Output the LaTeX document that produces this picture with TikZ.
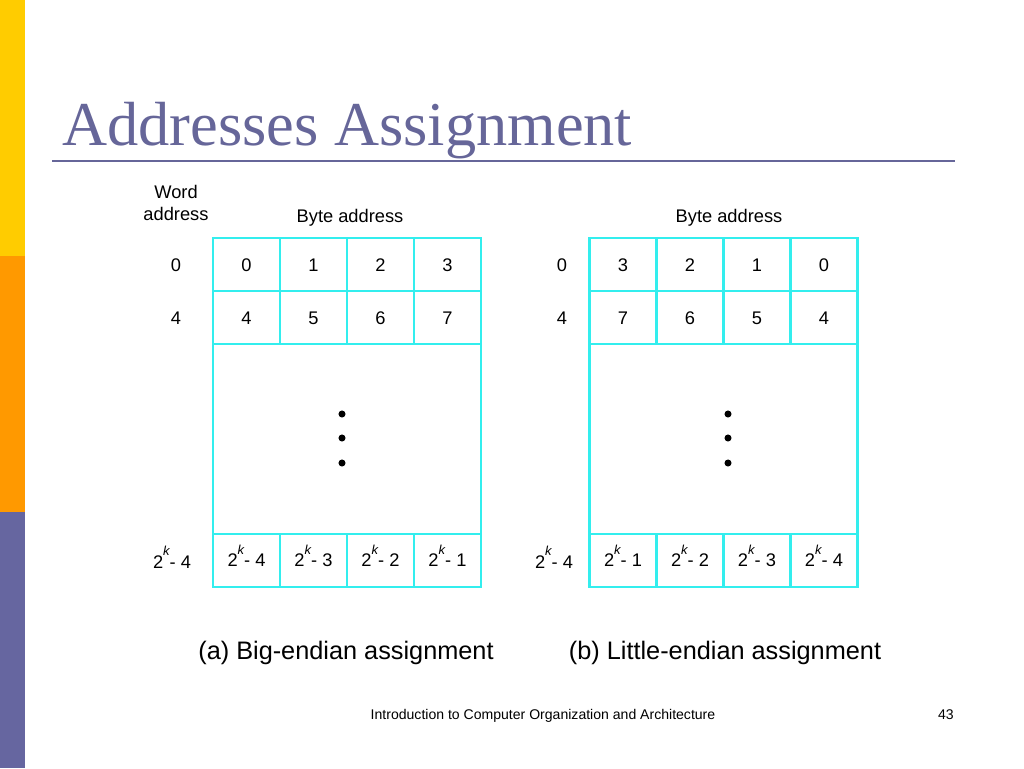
\documentclass[tikz,border=0pt]{standalone}
\usepackage{fontspec}
\setmainfont{Liberation Sans}
\newfontfamily\titleserif{Liberation Serif}
\usetikzlibrary{positioning}
\definecolor{slidetitle}{HTML}{666699}
\definecolor{cellcyan}{HTML}{33EEEE}
\definecolor{baryellow}{HTML}{FFCC00}
\definecolor{barorange}{HTML}{FF9900}
\definecolor{barblue}{HTML}{6666A0}
\newcommand{\cellfnt}{\fontsize{10.4}{13}\selectfont}
\newcommand{\capfnt}{\fontsize{14.4}{17}\selectfont}
\newcommand{\footfnt}{\fontsize{8}{10}\selectfont}
\newcommand{\titlefnt}{\titleserif\fontsize{35.5}{40}\selectfont}
\newcommand{\twok}[1]{2\raisebox{7.2pt}{\fontsize{7.4}{8}\selectfont\itshape k}- #1}
\tikzset{
  cell/.style={draw=cellcyan, line width=1.2pt, minimum width=1.34cm, minimum height=1.06cm,
    inner sep=0pt, outer sep=0pt, text height=7.45pt, text depth=0pt},
  wordlbl/.style={inner sep=0pt, text height=7.45pt, text depth=0pt}
}
\begin{document}
\begin{tikzpicture}[x=0.02cm, y=-0.02cm, font=\cellfnt]
	\useasboundingbox (0,0) rectangle (1024,768);
	% side bar
	\fill[baryellow] (0,0) rectangle (25,256);
	\fill[barorange] (0,256) rectangle (25,512);
	\fill[barblue] (0,512) rectangle (25,768);
	% title
	\node[anchor=base west, inner sep=0pt, font=\titlefnt, text=slidetitle] (title) at (62,145) {Addresses Assignment};
	\draw[slidetitle, line width=1.7pt] (52,161) -- (955,161);
	% big-endian
	\node[align=center, inner sep=0pt] (wordhead) at (176,203) {Word\\ address};
	\node[anchor=base] (bytea) at (350,222) {Byte address};
	\node[cell] (b0) at (246.5,264.5) {0};
	\node[cell, right=0pt of b0] (b1) {1};
	\node[cell, right=0pt of b1] (b2) {2};
	\node[cell, right=0pt of b2] (b3) {3};
	\node[cell, below=0pt of b0] (b4) {4};
	\node[cell, right=0pt of b4] (b5) {5};
	\node[cell, right=0pt of b5] (b6) {6};
	\node[cell, right=0pt of b6] (b7) {7};
	\node[cell, anchor=north west, minimum width=5.36cm, minimum height=3.8cm] (bmid) at (b4.south west) {};
	\node[cell, anchor=north west] (bk4) at (bmid.south west) {\twok{4}};
	\node[cell, right=0pt of bk4] (bk3) {\twok{3}};
	\node[cell, right=0pt of bk3] (bk2) {\twok{2}};
	\node[cell, right=0pt of bk2] (bk1) {\twok{1}};
	\node[wordlbl] (bw0) at (176,264.5) {0};
	\node[wordlbl] (bw4) at (176,318) {4};
	\node[wordlbl] (bwk) at (172,561.5) {\twok{4}};
	\node[anchor=base, font=\capfnt] (capa) at (346,659) {(a) Big-endian assignment};
	% little-endian
	\node[anchor=base] (bytel) at (729,222) {Byte address};
	\node[cell] (l3) at (623,264.5) {3};
	\node[cell, right=0pt of l3] (l2) {2};
	\node[cell, right=0pt of l2] (l1) {1};
	\node[cell, right=0pt of l1] (l0) {0};
	\node[cell, below=0pt of l3] (l7) {7};
	\node[cell, right=0pt of l7] (l6) {6};
	\node[cell, right=0pt of l6] (l5) {5};
	\node[cell, right=0pt of l5] (l4) {4};
	\node[cell, anchor=north west, minimum width=5.36cm, minimum height=3.8cm] (lmid) at (l7.south west) {};
	\node[cell, anchor=north west] (lk1) at (lmid.south west) {\twok{1}};
	\node[cell, right=0pt of lk1] (lk2) {\twok{2}};
	\node[cell, right=0pt of lk2] (lk3) {\twok{3}};
	\node[cell, right=0pt of lk3] (lk4) {\twok{4}};
	\node[wordlbl] (lw0) at (562,264.5) {0};
	\node[wordlbl] (lw4) at (562,318) {4};
	\node[wordlbl] (lwk) at (554,561.5) {\twok{4}};
	\node[anchor=base, font=\capfnt] (capb) at (725,659) {(b) Little-endian assignment};
	% dots
	\foreach \dy in {414,438,463} {
		\fill (342,\dy) circle (2pt);
		\fill (728,\dy) circle (2pt);
	}
	% footer
	\node[anchor=base, font=\footfnt] (foot) at (543,719) {Introduction to Computer Organization and Architecture};
	\node[anchor=base east, font=\footfnt] (page) at (960,719) {43};
\end{tikzpicture}
\end{document}
